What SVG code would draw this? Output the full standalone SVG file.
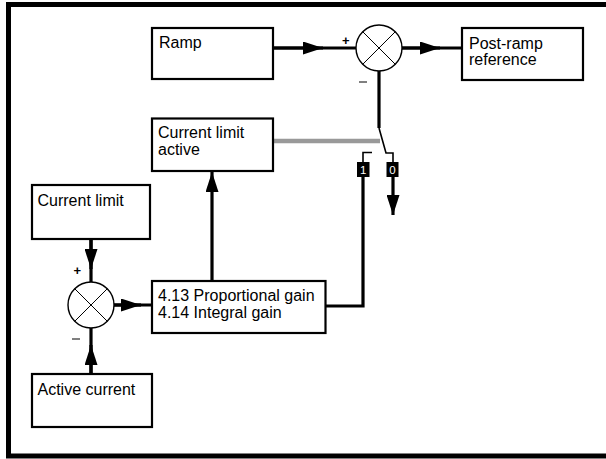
<svg xmlns="http://www.w3.org/2000/svg" width="606" height="459" viewBox="0 0 606 459">
<style>
.box{fill:#fff;stroke:#000;stroke-width:2.2}
.t{font-family:"Liberation Sans",Arial,sans-serif;font-size:16px;fill:#000}
.c{fill:none;stroke:#000;stroke-width:3.2}
.thin{fill:none;stroke:#000;stroke-width:1.6}
.sum{fill:#fff;stroke:#000;stroke-width:1.4}
.x{stroke:#000;stroke-width:1}
.sg{font-family:"Liberation Sans",Arial,sans-serif;font-size:13px;font-weight:bold;fill:#000}
.lbl{fill:#000}
.lt{font-family:"Liberation Sans",Arial,sans-serif;font-size:11.5px;fill:#fff;text-anchor:middle}
</style>
<defs>
<marker id="ah" viewBox="0 0 20 13" refX="20" refY="6.5" markerWidth="20" markerHeight="13" markerUnits="userSpaceOnUse" orient="auto">
<path d="M0,0 L20,6.5 L0,13 Z" fill="#000"/>
</marker>
</defs>
<rect width="606" height="459" fill="#fff"/>
<path d="M606,4.5 H8.5 V456 H606" fill="none" stroke="#000" stroke-width="5"/>

<g id="connectors">
<path class="c" d="M273,48 H356"/>
<path class="c" d="M273,48 H323" marker-end="url(#ah)"/>
<path class="c" d="M402,48 H462"/>
<path class="c" d="M402,48 H440" marker-end="url(#ah)"/>
<path class="c" d="M379,71 V128"/>
<path d="M273,141 H380" stroke="#999" stroke-width="4.5" fill="none"/>
<path class="thin" d="M379,128 L386,153 H393 V162"/>
<path class="c" d="M393,177 V215" marker-end="url(#ah)"/>
<path class="thin" d="M372,152.5 H363 V162"/>
<path class="c" d="M326,306 H363 V177"/>
<path class="c" d="M212,281 V172" marker-end="url(#ah)"/>
<path class="c" d="M91,239 V282"/>
<path class="c" d="M91,239 V269" marker-end="url(#ah)"/>
<path class="c" d="M114,305 H152"/>
<path class="c" d="M114,305 H141" marker-end="url(#ah)"/>
<path class="c" d="M91,374 V328"/>
<path class="c" d="M91,374 V345" marker-end="url(#ah)"/>
</g>

<g id="ramp">
<rect class="box" x="152" y="28" width="121" height="51"/>
<text class="t" x="159" y="48">Ramp</text>
</g>
<g id="sum1">
<circle class="sum" cx="379" cy="48" r="23"/>
<path class="x" d="M362.7,31.7 L395.3,64.3 M395.3,31.7 L362.7,64.3"/>
<text class="sg" x="342" y="45">+</text>
<path d="M359,82 H367" stroke="#000" stroke-width="1"/>
</g>
<g id="postramp">
<rect class="box" x="462" y="28" width="121" height="52"/>
<text class="t" x="469" y="49">Post-ramp</text>
<text class="t" x="469" y="65">reference</text>
</g>
<g id="climactive">
<rect class="box" x="152" y="118.5" width="121" height="52.5"/>
<text class="t" x="158" y="137.5">Current limit</text>
<text class="t" x="158" y="154.5">active</text>
</g>
<g id="switch-labels">
<rect class="lbl" x="357" y="162" width="12.5" height="15"/>
<text class="lt" x="363.2" y="174">1</text>
<rect class="lbl" x="386.5" y="162" width="12" height="15"/>
<text class="lt" x="392.5" y="174">0</text>
</g>
<g id="climit">
<rect class="box" x="32" y="185" width="118" height="54"/>
<text class="t" x="37.5" y="206">Current limit</text>
</g>
<g id="sum2">
<circle class="sum" cx="91" cy="305" r="23"/>
<path class="x" d="M74.7,288.7 L107.3,321.3 M107.3,288.7 L74.7,321.3"/>
<text class="sg" x="73.5" y="275">+</text>
<path d="M72,339 H80" stroke="#000" stroke-width="1"/>
</g>
<g id="gain">
<rect class="box" x="152" y="281" width="173.5" height="52"/>
<text class="t" x="158" y="300.5">4.13 Proportional gain</text>
<text class="t" x="158" y="317.5">4.14 Integral gain</text>
</g>
<g id="activecurrent">
<rect class="box" x="32" y="374" width="120" height="53"/>
<text class="t" x="37.5" y="395">Active current</text>
</g>
</svg>
